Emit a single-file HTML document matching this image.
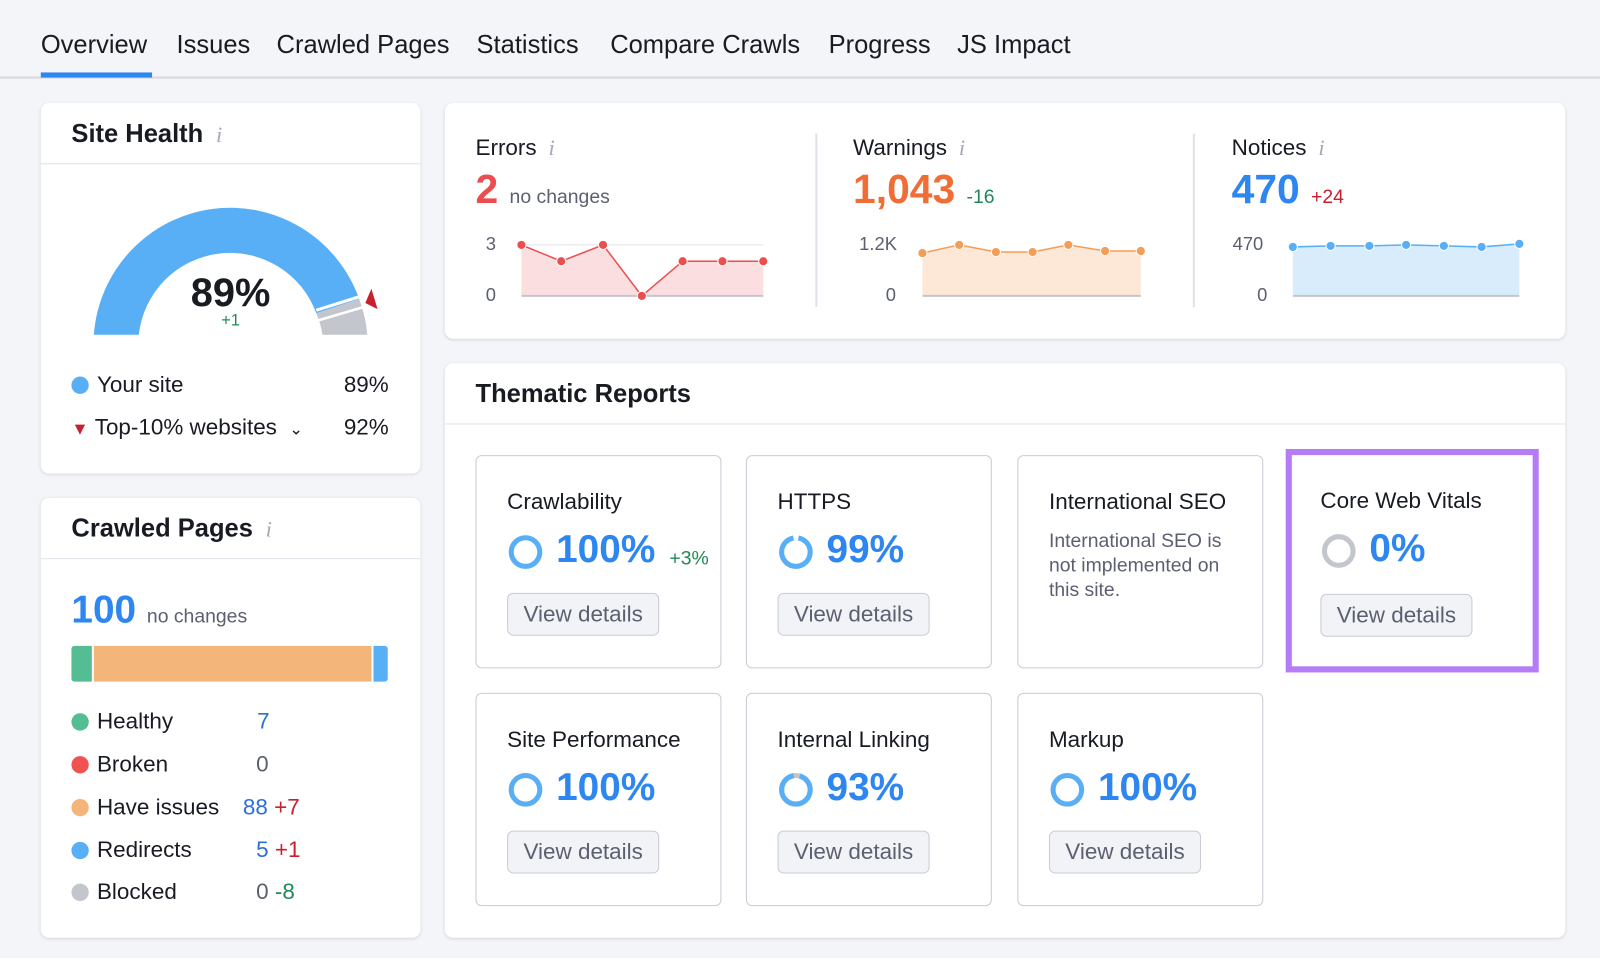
<!DOCTYPE html>
<html><head><meta charset="utf-8"><style>
*{margin:0;padding:0;box-sizing:border-box}
body{width:1600px;height:958px;background:#f4f5f9;font-family:"Liberation Sans",sans-serif;color:#191b23;overflow:hidden}
#w{position:relative;width:1568px;height:939px;transform:scale(1.0204);transform-origin:0 0}
.a{position:absolute;white-space:nowrap}
.card{position:absolute;background:#fff;border-radius:8px;box-shadow:0 1px 3px rgba(0,0,0,.12)}
.hl{position:absolute;left:0;right:0;height:1px;background:#e0e1e9}
.tab{font-size:25px;top:30px}
.h{font-size:25px;font-weight:bold}
.i{color:#a5a8b8;font-style:italic;font-family:"Liberation Serif",serif;font-size:22px;font-weight:normal}
.tile{position:absolute;width:241px;height:209px;border:1.5px solid #c9cbd6;border-radius:6px;background:#fff}
.tile .t{position:absolute;left:30px;top:32px;font-size:22px}
.tile .p{position:absolute;left:78px;top:71px;font-size:38px;font-weight:bold;color:#2e86f0}
.tile .btn{position:absolute;left:30px;top:134px;width:149px;height:42px;border:1.5px solid #c9cbd6;border-radius:6px;background:#f2f3f6;color:#5b5f70;font-size:22px;text-align:center;line-height:39px}
.tile svg{position:absolute;left:30px;top:76px}
.lg{font-size:22px}
.dot{display:inline-block;width:17px;height:17px;border-radius:50%;vertical-align:-2px;margin-right:8px}
</style></head><body><div id="w">
<div class="a tab" style="left:40px">Overview</div>
<div class="a tab" style="left:173px">Issues</div>
<div class="a tab" style="left:271px">Crawled Pages</div>
<div class="a tab" style="left:467px">Statistics</div>
<div class="a tab" style="left:598px">Compare Crawls</div>
<div class="a tab" style="left:812px">Progress</div>
<div class="a tab" style="left:938px">JS Impact</div>
<div class="a" style="left:0;top:75px;width:1600px;height:2px;background:#d6d8e0"></div>
<div class="a" style="left:40px;top:71px;width:109px;height:5px;background:#2e86f0"></div>

<div class="card" style="left:40px;top:101px;width:372px;height:363px">
<div class="a h" style="left:30px;top:16px">Site Health <span class="i">&nbsp;i</span></div>
<div class="hl" style="top:59px"></div>
<svg class="a" style="left:0;top:0" width="372" height="363">
<path d="M52 227 A134 134 0 0 1 312 192 L270 206 A90 90 0 0 0 96 227 Z" fill="#59aff6"/>
<path d="M312 192 A134 134 0 0 1 320 227 L276 227 A90 90 0 0 0 270 206 Z" fill="#c4c6ce"/>
<line x1="270" y1="203" x2="318" y2="188" stroke="#fff" stroke-width="3"/>
<line x1="272" y1="213" x2="316" y2="200" stroke="#fff" stroke-width="2.5"/>
<polygon points="318,196 324,182 330,202" fill="#c8202f"/>
</svg>
<div class="a" style="left:0;width:372px;text-align:center;top:165px;font-size:39px;font-weight:bold">89%</div>
<div class="a" style="left:0;width:372px;text-align:center;top:205px;font-size:16px;color:#1f8a55">+1</div>
<div class="a lg" style="left:30px;top:263px"><span class="dot" style="background:#59aff6"></span>Your site</div>
<div class="a lg" style="right:31px;top:263px">89%</div>
<div class="a lg" style="left:30px;top:305px"><span style="color:#c8202f;font-size:17px;margin-right:6px">▼</span>Top-10% websites <span style="font-size:16px;margin-left:6px">⌄</span></div>
<div class="a lg" style="right:31px;top:305px">92%</div>
</div>

<div class="card" style="left:40px;top:488px;width:372px;height:431px">
<div class="a h" style="left:30px;top:16px">Crawled Pages <span class="i">&nbsp;i</span></div>
<div class="hl" style="top:59px"></div>
<div class="a" style="left:30px;top:89px;font-size:38px;font-weight:bold;color:#2e86f0">100 <span style="font-size:19px;font-weight:normal;color:#5b5f70">no changes</span></div>
<div class="a" style="left:30px;top:145px;width:310px;height:35px;display:flex;gap:2px">
<div style="width:20px;background:#54bd94;border-radius:3px 0 0 3px"></div>
<div style="flex:1;background:#f3b57a"></div>
<div style="width:14px;background:#59aff6;border-radius:0 3px 3px 0"></div></div>
<div class="a lg" style="left:30px;top:206px"><span class="dot" style="background:#54bd94"></span>Healthy</div><div class="a lg" style="left:212px;top:206px;color:#2e6fd6">7</div>
<div class="a lg" style="left:30px;top:248px"><span class="dot" style="background:#f05252"></span>Broken</div><div class="a lg" style="left:211px;top:248px;color:#5b5f70">0</div>
<div class="a lg" style="left:30px;top:290px"><span class="dot" style="background:#f3b57a"></span>Have issues</div><div class="a lg" style="left:198px;top:290px"><span style="color:#2e6fd6">88</span> <span style="color:#c8202f">+7</span></div>
<div class="a lg" style="left:30px;top:332px"><span class="dot" style="background:#59aff6"></span>Redirects</div><div class="a lg" style="left:211px;top:332px"><span style="color:#2e6fd6">5</span> <span style="color:#c8202f">+1</span></div>
<div class="a lg" style="left:30px;top:373px"><span class="dot" style="background:#c4c6ce"></span>Blocked</div><div class="a lg" style="left:211px;top:373px"><span style="color:#5b5f70">0</span> <span style="color:#1f8a55">-8</span></div>
</div>

<div class="card" style="left:436px;top:101px;width:1098px;height:231px">
<div class="a" style="left:363px;top:30px;width:2px;height:170px;background:#e0e1e9"></div>
<div class="a" style="left:733px;top:30px;width:2px;height:170px;background:#e0e1e9"></div>
<div class="a" style="left:30px;top:31px;font-size:22px">Errors <span class="i">&nbsp;i</span></div>
<div class="a" style="left:30px;top:63px;font-size:40px;font-weight:bold;color:#ea4e4e">2 <span style="font-size:19px;font-weight:normal;color:#5b5f70">no changes</span></div>
<div class="a" style="left:400px;top:31px;font-size:22px">Warnings <span class="i">&nbsp;i</span></div>
<div class="a" style="left:400px;top:63px;font-size:40px;font-weight:bold;color:#f06e35">1,043 <span style="font-size:19px;font-weight:normal;color:#1f8a55">-16</span></div>
<div class="a" style="left:771px;top:31px;font-size:22px">Notices <span class="i">&nbsp;i</span></div>
<div class="a" style="left:771px;top:63px;font-size:40px;font-weight:bold;color:#2e86f0">470 <span style="font-size:19px;font-weight:normal;color:#c8202f">+24</span></div>
<svg class="a" style="left:0;top:0" width="1098" height="231" font-family="Liberation Sans" font-size="18" fill="#5b5f70">
<text x="40" y="144">3</text><text x="40" y="194">0</text>
<line x1="75" y1="139" x2="312" y2="139" stroke="#e3e4ea"/>
<polygon points="75,139 114,155 155,139 193,189 233,155 272,155 312,155 312,189 75,189" fill="#fbdedf"/>
<line x1="75" y1="189" x2="312" y2="189" stroke="#c4c6ce" stroke-width="2"/>
<polyline points="75,139 114,155 155,139 193,189 233,155 272,155 312,155" fill="none" stroke="#ea4e4e" stroke-width="1.5"/>
<g fill="#ea4e4e" stroke="#fff"><circle cx="75" cy="139" r="4.5"/><circle cx="114" cy="155" r="4.5"/><circle cx="155" cy="139" r="4.5"/><circle cx="193" cy="189" r="4.5"/><circle cx="233" cy="155" r="4.5"/><circle cx="272" cy="155" r="4.5"/><circle cx="312" cy="155" r="4.5"/></g>
<text x="406" y="144">1.2K</text><text x="432" y="194">0</text>
<polygon points="468,147 504,139 540,146 576,146 611,139 647,145 682,145 682,189 468,189" fill="#fde7d6"/>
<line x1="468" y1="189" x2="682" y2="189" stroke="#c4c6ce" stroke-width="2"/>
<polyline points="468,147 504,139 540,146 576,146 611,139 647,145 682,145" fill="none" stroke="#f59d55" stroke-width="1.5"/>
<g fill="#f59d55" stroke="#fff"><circle cx="468" cy="147" r="4.5"/><circle cx="504" cy="139" r="4.5"/><circle cx="540" cy="146" r="4.5"/><circle cx="576" cy="146" r="4.5"/><circle cx="611" cy="139" r="4.5"/><circle cx="647" cy="145" r="4.5"/><circle cx="682" cy="145" r="4.5"/></g>
<text x="772" y="144">470</text><text x="796" y="194">0</text>
<polygon points="831,141 868,140 906,140 942,139 979,140 1016,141 1053,138 1053,189 831,189" fill="#d9ecfc"/>
<line x1="831" y1="189" x2="1053" y2="189" stroke="#c4c6ce" stroke-width="2"/>
<polyline points="831,141 868,140 906,140 942,139 979,140 1016,141 1053,138" fill="none" stroke="#59aff6" stroke-width="1.5"/>
<g fill="#59aff6" stroke="#fff"><circle cx="831" cy="141" r="4.5"/><circle cx="868" cy="140" r="4.5"/><circle cx="906" cy="140" r="4.5"/><circle cx="942" cy="139" r="4.5"/><circle cx="979" cy="140" r="4.5"/><circle cx="1016" cy="141" r="4.5"/><circle cx="1053" cy="138" r="4.5"/></g>
</svg>
</div>

<div class="card" style="left:436px;top:356px;width:1098px;height:563px">
<div class="a h" style="left:30px;top:16px">Thematic Reports</div>
<div class="hl" style="top:59px"></div>
</div>

<div class="tile" style="left:466px;top:446px"><div class="t">Crawlability</div>
<svg width="36" height="36"><circle cx="18" cy="18" r="14" fill="none" stroke="#59aff6" stroke-width="5"/></svg>
<div class="p">100%</div><div class="a" style="left:189px;top:90px;font-size:19px;color:#1f8a55">+3%</div><div class="btn">View details</div></div>

<div class="tile" style="left:731px;top:446px"><div class="t">HTTPS</div>
<svg width="36" height="36"><circle cx="18" cy="18" r="14" fill="none" stroke="#59aff6" stroke-width="5" stroke-dasharray="83 5" transform="rotate(-80 18 18)"/></svg>
<div class="p">99%</div><div class="btn">View details</div></div>

<div class="tile" style="left:997px;top:446px"><div class="t">International SEO</div>
<div class="a" style="left:30px;top:72px;font-size:19px;line-height:24px;color:#5b5f70;white-space:normal;width:200px">International SEO is not implemented on this site.</div></div>

<div class="a" style="left:1260px;top:440px;width:248px;height:219px;border:6px solid #b57cf5"></div>
<div class="a" style="left:1294px;top:478px;font-size:22px">Core Web Vitals</div>
<svg class="a" style="left:1294px;top:522px" width="36" height="36"><circle cx="18" cy="18" r="14" fill="none" stroke="#c4c6ce" stroke-width="5"/></svg>
<div class="a" style="left:1342px;top:517px;font-size:38px;font-weight:bold;color:#2e86f0">0%</div>
<div class="a" style="left:1294px;top:582px;width:149px;height:42px;border:1.5px solid #c9cbd6;border-radius:6px;background:#f2f3f6;color:#5b5f70;font-size:22px;text-align:center;line-height:39px">View details</div>

<div class="tile" style="left:466px;top:679px"><div class="t">Site Performance</div>
<svg width="36" height="36"><circle cx="18" cy="18" r="14" fill="none" stroke="#59aff6" stroke-width="5"/></svg>
<div class="p">100%</div><div class="btn">View details</div></div>

<div class="tile" style="left:731px;top:679px"><div class="t">Internal Linking</div>
<svg width="36" height="36"><circle cx="18" cy="18" r="14" fill="none" stroke="#c4c6ce" stroke-width="5"/><circle cx="18" cy="18" r="14" fill="none" stroke="#59aff6" stroke-width="5" stroke-dasharray="82 6" transform="rotate(-75 18 18)"/></svg>
<div class="p">93%</div><div class="btn">View details</div></div>

<div class="tile" style="left:997px;top:679px"><div class="t">Markup</div>
<svg width="36" height="36"><circle cx="18" cy="18" r="14" fill="none" stroke="#59aff6" stroke-width="5"/></svg>
<div class="p">100%</div><div class="btn">View details</div></div>
</div></body></html>
